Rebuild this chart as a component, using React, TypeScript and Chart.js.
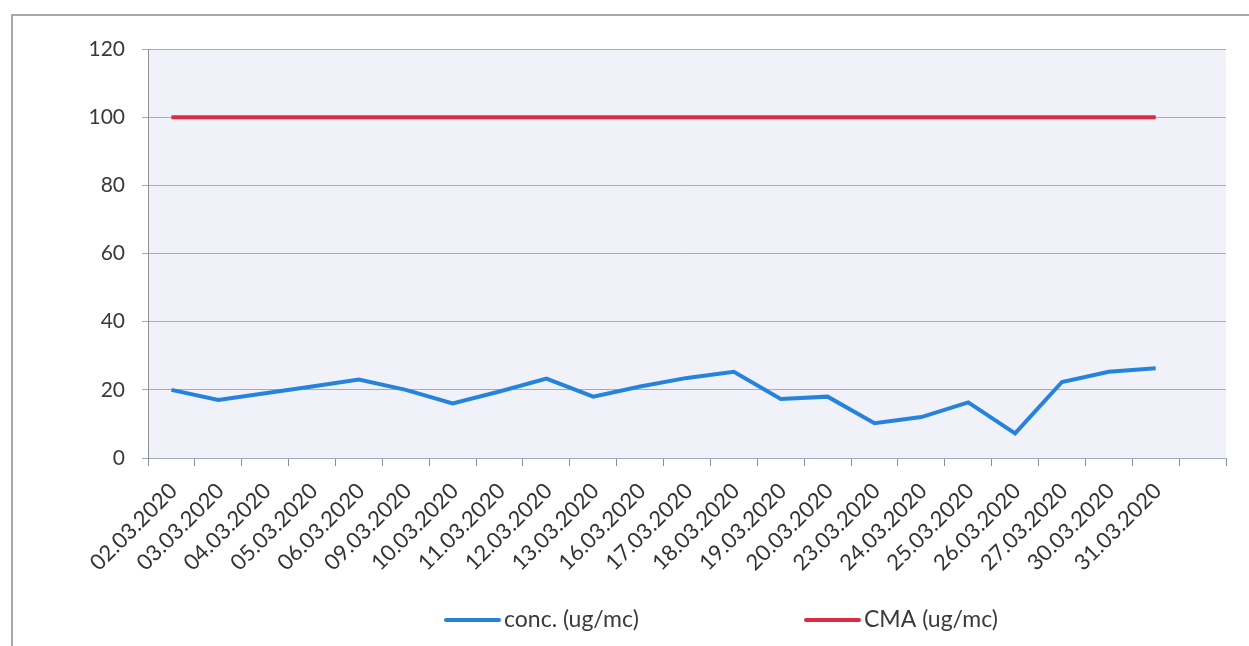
import React, { useEffect, useRef } from "react";
import { Chart, registerables } from "chart.js";

Chart.register(...registerables);

const categories = [
  "02.03.2020", "03.03.2020", "04.03.2020", "05.03.2020", "06.03.2020",
  "09.03.2020", "10.03.2020", "11.03.2020", "12.03.2020", "13.03.2020",
  "16.03.2020", "17.03.2020", "18.03.2020", "19.03.2020", "20.03.2020",
  "23.03.2020", "24.03.2020", "25.03.2020", "26.03.2020", "27.03.2020",
  "30.03.2020", "31.03.2020", "",
];
const concValues = [20, 17, 19, 21, 23, 20, 16, 19.5, 23.3, 18, 21, 23.5, 25.3, 17.3, 18, 10.2, 12, 16.3, 7.2, 22.3, 25.3, 26.3];
const cmaValues = [100, 100, 100, 100, 100, 100, 100, 100, 100, 100, 100, 100, 100, 100, 100, 100, 100, 100, 100, 100, 100, 100];
const seriesLabels = ["conc. (ug/mc)", "CMA (ug/mc)"];
const yMin = 0;
const yMax = 120;
const yStep = 20;

const FONT = "Lato, 'Open Sans', sans-serif";

const plotBackground = {
  id: "plotBackground",
  beforeDraw(chart: any) {
    const { ctx, chartArea } = chart;
    ctx.save();
    ctx.fillStyle = "#f1f1fa";
    ctx.fillRect(chartArea.left, chartArea.top, chartArea.right - chartArea.left, chartArea.bottom - chartArea.top);
    ctx.restore();
  },
};

const bottomLegend = {
  id: "bottomLegend",
  afterDraw(chart: any) {
    const { ctx } = chart;
    const y = 620;
    const starts = [446, 806];
    chart.data.datasets.forEach((ds: any, i: number) => {
      const x = starts[i];
      ctx.save();
      ctx.strokeStyle = ds.borderColor;
      ctx.lineWidth = 4;
      ctx.lineCap = "round";
      ctx.beginPath();
      ctx.moveTo(x, y);
      ctx.lineTo(x + 53, y);
      ctx.stroke();
      ctx.fillStyle = "#3a3a3a";
      ctx.font = `23px ${FONT}`;
      ctx.textBaseline = "middle";
      ctx.textAlign = "left";
      ctx.fillText(ds.label, x + 58, y);
      ctx.restore();
    });
  },
};

export default function App() {
  const canvasRef = useRef<HTMLCanvasElement | null>(null);

  useEffect(() => {
    if (!canvasRef.current) return;
    const chart = new Chart(canvasRef.current, {
      type: "line",
      data: {
        labels: categories,
        datasets: [
          {
            label: seriesLabels[0],
            data: concValues,
            borderColor: "#2683dc",
            backgroundColor: "#2683dc",
            borderWidth: 4,
            pointRadius: 0,
            tension: 0,
          },
          {
            label: seriesLabels[1],
            data: cmaValues,
            borderColor: "#de2a40",
            backgroundColor: "#de2a40",
            borderWidth: 4,
            pointRadius: 0,
            tension: 0,
          },
        ],
      },
      options: {
        animation: false,
        responsive: true,
        maintainAspectRatio: false,
        layout: { padding: { left: 12, top: 49, right: 23, bottom: 0 } },
        plugins: {
          legend: { display: false },
          tooltip: { enabled: false },
        },
        scales: {
          x: {
            type: "category",
            offset: true,
            grid: {
              offset: true,
              drawOnChartArea: false,
              drawTicks: true,
              tickLength: 8,
              color: "#8e8e98",
            },
            border: { display: true, color: "#a3abc4" },
            ticks: {
              autoSkip: false,
              minRotation: 45,
              maxRotation: 45,
              padding: 12,
              labelOffset: 2,
              color: "#333333",
              font: { family: FONT, size: 22 },
            },
            afterFit: (scale: any) => {
              scale.height = 188;
            },
          },
          y: {
            min: yMin,
            max: yMax,
            ticks: {
              stepSize: yStep,
              padding: 17,
              color: "#3a3a3a",
              font: { family: FONT, size: 21 },
            },
            grid: {
              color: "#a3abc4",
              lineWidth: 1,
              tickLength: 6,
            },
            border: { display: true, color: "#8e8e98" },
            afterFit: (scale: any) => {
              scale.width = 136;
            },
          },
        },
      },
      plugins: [plotBackground, bottomLegend],
    });
    return () => chart.destroy();
  }, []);

  return (
    <div style={{ position: "fixed", left: 0, top: 0, width: 1249, height: 646, background: "#ffffff" }}>
      <canvas ref={canvasRef} />
      <div
        style={{
          position: "absolute",
          left: 11,
          top: 14,
          width: 1260,
          height: 660,
          borderLeft: "2px solid #aaa6b0",
          borderTop: "2px solid #aaa6b0",
          pointerEvents: "none",
        }}
      />
    </div>
  );
}
